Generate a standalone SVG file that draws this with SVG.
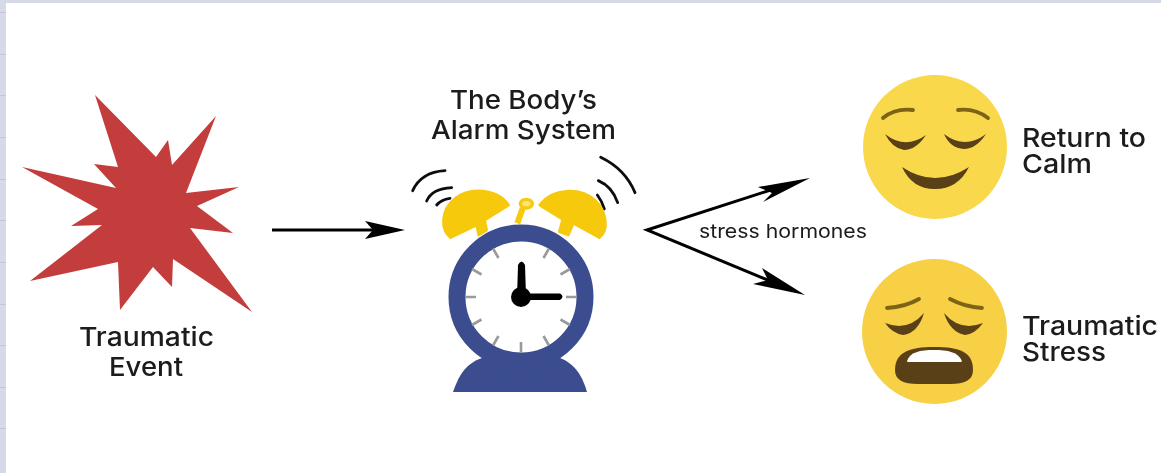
<svg xmlns="http://www.w3.org/2000/svg" width="1161" height="473" viewBox="0 0 1161 473">
<style>
text{font-family:Inter,"Liberation Sans",sans-serif;fill:#1a1a1a;font-size:26px;font-weight:500}
.line{fill:none;stroke:#000;stroke-width:3}
.head{fill:#000}
.tick{stroke:#9a9a9a;stroke-width:2.6}
.wave{fill:none;stroke:#111;stroke-width:8.500;stroke-linecap:round}
.bell{fill:#f6c90e;stroke:#f6c90e;stroke-width:8;stroke-linejoin:round}
.blue{fill:#3a4d8f}
.face{fill:#f9d84b}
.dark{fill:#5a4015}
.brow{fill:none;stroke:#7d6419;stroke-width:3.800;stroke-linecap:round}
.rule{stroke:#c4c7d8;stroke-width:1}
</style>
<defs><filter id="soft" x="-5%" y="-5%" width="110%" height="110%"><feGaussianBlur stdDeviation="0.6"/></filter></defs>
<rect width="1161" height="473" fill="#fff"/>
<g id="frame">
<rect width="1161" height="3" fill="#d6d9e8"/>
<rect width="6" height="473" fill="#d6d9e8"/>
<path class="rule" d="M0 12.500H6M0 54.500H6M0 95.500H6M0 137.500H6M0 179.500H6M0 220.500H6M0 262.500H6M0 304.500H6M0 345.500H6M0 387.500H6M0 428.500H6"/>
</g>
<g filter="url(#soft)">
<g id="traumatic-event">
<polygon fill="#c43c3c" points="95,95 156,157 168,140 172,165 216,116 186,193 239,187 197,206 233,233 190,228 252,312 173,259 172,287 153,267 120,310 118,262 30,281 102,225 71,226 98,209 22,167 116,188 94,164 118,167"/>
<text><tspan x="79" y="346" textLength="135" lengthAdjust="spacingAndGlyphs">Traumatic</tspan><tspan x="109" y="376" textLength="74" lengthAdjust="spacingAndGlyphs">Event</tspan></text>
</g>
<g id="alarm-clock">
<text><tspan x="450" y="109" textLength="147" lengthAdjust="spacingAndGlyphs">The Body’s</tspan><tspan x="431" y="139" textLength="185" lengthAdjust="spacingAndGlyphs">Alarm System</tspan></text>
<g transform="translate(400 140) scale(.33333)">
<path class="wave" d="M38 152C55 115 85 95 135 92M80 183C90 160 115 145 155 143M110 195C118 185 130 178 150 175"/>
<path class="wave" d="M602 52C650 75 685 110 705 158M595 122C625 135 643 158 653 188M592 165C602 178 608 190 613 207"/>
<path class="bell" d="M152 293C122 270 120 212 165 176C205 143 288 142 326 195L254 240L260 270L236 285L230 255Z"/>
<path class="bell" d="M419 195C460 142 542 143 584 180C620 213 628 270 598 293L520 250L505 285L478 275L488 238Z"/>
<path d="M352 250L368 205" fill="none" stroke="#f6c90e" stroke-width="18"/>
<ellipse cx="379" cy="191" rx="18" ry="13" fill="#fbe27a" stroke="#f6c90e" stroke-width="10"/>
</g>
<path class="blue" d="M453 392C458 378 464 364 482 358L560 358C576 364 583 378 587 392Z"/>
<circle cx="521" cy="297" r="64" fill="#fff" stroke="#3a4d8f" stroke-width="17"/>
<g id="clock-ticks">
<path class="tick" d="M521 342V353M498.500 336 493 345.500M481.500 319.500 472 325M476 297H465M481.500 274.500 472 269M498.500 258 493 248.500M543.500 258 549 248.500M560.500 274.500 570 269M566 297H577M560.500 319.500 570 325M543.500 336 549 345.500"/>
</g>
<path fill="#000" d="M518 265Q521.500 258 525 265L526 297H517Z"/>
<path fill="#000" d="M521 293.500H560Q565 296.500 560 300H521Z"/>
<circle cx="521" cy="297" r="10" fill="#000"/>
</g>
<g id="return-to-calm">
<circle class="face" cx="935" cy="147" r="72"/>
<path class="brow" d="M883 118Q895 108 913 110M958 110Q975 108 988 118"/>
<path class="dark" d="M885 134Q905 150 926 135Q916 150 904 150Q892 148 885 134Z"/>
<path class="dark" d="M944 134Q965 150 986 134Q976 149 964 149Q950 148 944 134Z"/>
<path class="dark" d="M902 167Q935 189 969 167Q958 189 935 189Q912 189 902 167Z"/>
<text><tspan x="1022" y="147" textLength="124" lengthAdjust="spacingAndGlyphs">Return to</tspan><tspan x="1022" y="173" textLength="70" lengthAdjust="spacingAndGlyphs">Calm</tspan></text>
</g>
<g id="traumatic-stress">
<circle class="face" cx="934.500" cy="331.500" r="72.500" style="fill:#f7d044"/>
<path class="brow" d="M887 308Q905 307 919 299M950 299Q965 307 982 308"/>
<path class="dark" d="M885 323Q908 332 924 313Q918 333 903 335Q892 333 885 323Z"/>
<path class="dark" d="M944 313Q960 332 983 323Q975 334 965 335Q950 332 944 313Z"/>
<path class="dark" d="M895 370C895 352 910 347 934 347C960 347 973 352 973 370C973 380 965 384 950 384H918C903 384 895 380 895 370Z"/>
<path fill="#fff" d="M907 361C910 352 920 350 934 350C948 350 958 352 962 361C962 362 960 362 958 362H910C908 362 907 362 907 361Z"/>
<text><tspan x="1022" y="335" textLength="136" lengthAdjust="spacingAndGlyphs">Traumatic</tspan><tspan x="1022" y="361" textLength="84" lengthAdjust="spacingAndGlyphs">Stress</tspan></text>
</g>
<g id="connectors">
<path class="line" d="M272 230H380"/>
<path class="head" d="M405 230L365 221L373 230L365 239Z"/>
<path class="line" d="M780 187L647 230L775 283"/>
<path class="head" d="M810 178L758 187L772 193L763 202Z"/>
<path class="head" d="M805 295L762 268L768 280L753 284Z"/>
<text x="699" y="238" textLength="168" lengthAdjust="spacingAndGlyphs" style="font-size:19px;font-weight:400">stress hormones</text>
</g>
</g>
</svg>
